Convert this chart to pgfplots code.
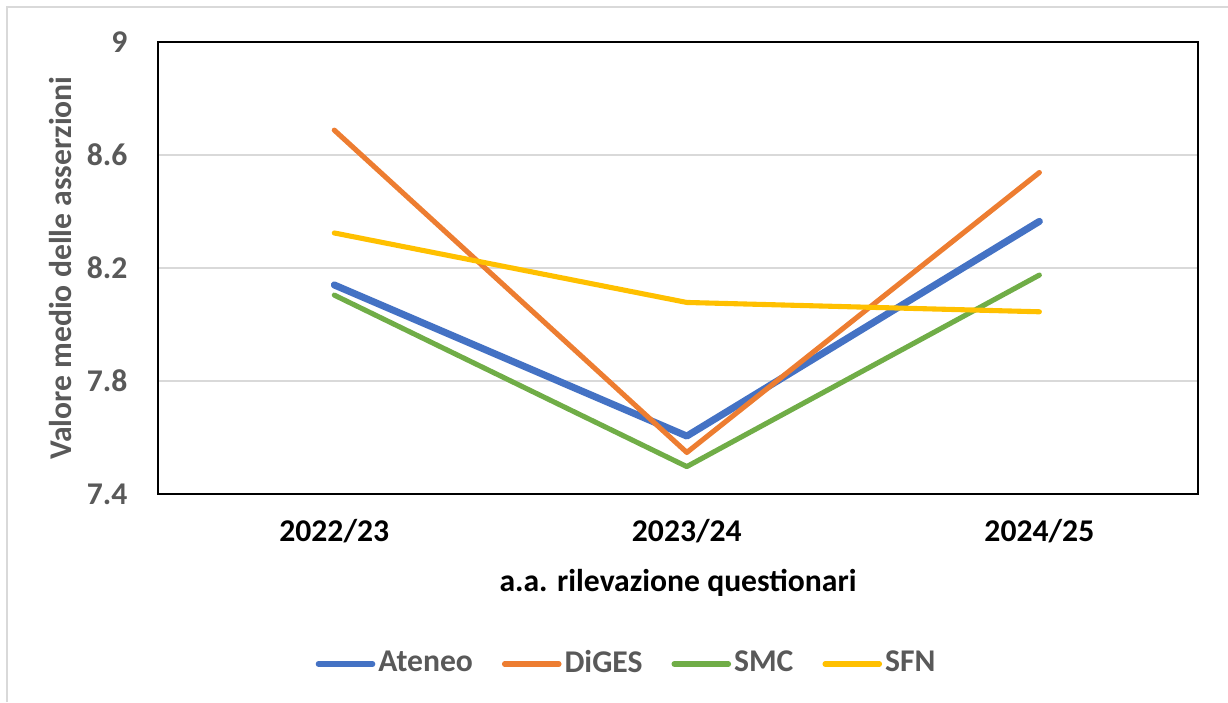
\documentclass[border=0pt]{standalone}
\usepackage{pgfplots}
\pgfplotsset{compat=1.18}
\usepackage{fontspec}
\setmainfont{Carlito}
\definecolor{cAt}{HTML}{4472C4}
\definecolor{cDi}{HTML}{ED7D31}
\definecolor{cSM}{HTML}{70AD47}
\definecolor{cSF}{HTML}{FFC000}
\definecolor{gridc}{HTML}{D9D9D9}
\definecolor{tickgray}{HTML}{595959}
\begin{document}
\fontsize{9pt}{11pt}\selectfont
\begin{tikzpicture}
\path[use as bounding box] (0,0) rectangle (122.8mm,70.2mm);
\draw[color=gridc, line width=0.2mm] (0.7mm,0) -- (0.7mm,69.5mm) -- (122.8mm,69.5mm);
\begin{axis}[
  at={(15.8mm,20.8mm)}, anchor=south west,
  width=104mm, height=45.2mm, scale only axis,
  xmin=-0.5, xmax=2.45, ymin=7.4, ymax=9,
  xtick={0,1,2}, xticklabels={2022/23,2023/24,2024/25},
  ytick={7.4,7.8,8.2,8.6,9},
  yticklabels={7.4,7.8,8.2,8.6,9},
  ymajorgrids, grid style={color=gridc, line width=0.6pt},
  major tick length=0pt,
  axis line style={line width=0.8pt, black},
  yticklabel style={anchor=east, inner sep=0pt, xshift=-3mm, text=tickgray, font=\fontsize{9pt}{11pt}\selectfont\bfseries},
  xticklabel style={anchor=base, inner sep=0pt, yshift=-4.8mm, font=\fontsize{9pt}{11pt}\selectfont\bfseries},
  ylabel={Valore medio delle asserzioni},
  ylabel style={at={(axis description cs:-0.0827,0.5)}, anchor=base, inner sep=0pt, text=tickgray, font=\fontsize{9pt}{11pt}\selectfont\bfseries},
  xlabel={a.a. rilevazione questionari},
  xlabel style={at={(axis description cs:0.5,-0.2168)}, anchor=base, inner sep=0pt, font=\fontsize{9pt}{11pt}\selectfont\bfseries},
  legend style={at={(axis description cs:0.451,-0.376)}, anchor=center, draw=none, fill=none, legend columns=4, font=\fontsize{9pt}{11pt}\selectfont\bfseries, text=tickgray, nodes={inner xsep=0.3mm, inner ysep=0.5mm}, /tikz/every even column/.append style={column sep=2.6mm}},
  legend image code/.code={\draw[#1, line width=1.6pt, line cap=round] (0mm,0mm) -- (5.4mm,0mm);},
  legend cell align=left,
  every axis plot/.append style={line join=round, line cap=round},
]
\addplot[cAt, line width=2pt] coordinates {(0,8.14) (1,7.605) (2,8.365)};
\addlegendentry{Ateneo}
\addplot[cDi, line width=1.45pt] coordinates {(0,8.688) (1,7.547) (2,8.538)};
\addlegendentry{DiGES}
\addplot[cSM, line width=1.45pt] coordinates {(0,8.104) (1,7.497) (2,8.175)};
\addlegendentry{SMC}
\addplot[cSF, line width=1.45pt] coordinates {(0,8.324) (1,8.078) (2,8.045)};
\addlegendentry{SFN}
\end{axis}
\end{tikzpicture}
\end{document}
